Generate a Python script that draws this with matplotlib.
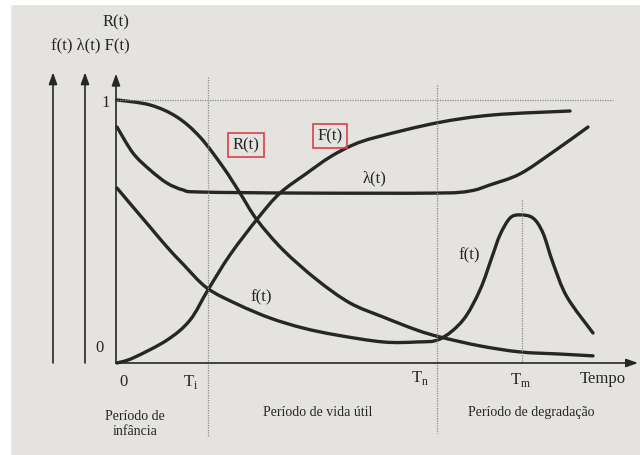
import matplotlib
matplotlib.use("Agg")
import matplotlib.pyplot as plt
from matplotlib.patches import Rectangle, PathPatch
from matplotlib.path import Path

plt.rcParams["font.family"] = ["Liberation Serif", "DejaVu Serif"]

# time marks on the horizontal axis
T_i, T_n, T_m = 0.91, 3.20, 4.05

# reliability R(t)
r_t = [0, 0.33, 0.60, 0.83, 1.06, 1.23, 1.40, 1.66, 2.00, 2.33, 2.66, 3.00, 3.23, 3.63, 4.03, 4.43, 4.76]
r_y = [1.0, 0.981, 0.935, 0.859, 0.745, 0.646, 0.544, 0.430, 0.316, 0.228, 0.175, 0.125, 0.099, 0.065, 0.042, 0.034, 0.027]

# cumulative failure F(t)
F_t = [0, 0.16, 0.50, 0.73, 0.91, 1.13, 1.41, 1.63, 1.90, 2.13, 2.36, 2.60, 3.20, 3.76, 4.53]
F_y = [0, 0.019, 0.087, 0.163, 0.278, 0.411, 0.551, 0.646, 0.722, 0.783, 0.829, 0.859, 0.913, 0.943, 0.958]

# failure rate lambda(t) (bathtub)
lam_t = [0, 0.16, 0.33, 0.50, 0.66, 0.83, 1.83, 3.20, 3.53, 3.73, 4.03, 4.36, 4.71]
lam_y = [0.897, 0.798, 0.734, 0.684, 0.658, 0.650, 0.646, 0.646, 0.654, 0.677, 0.719, 0.802, 0.897]

# failure density f(t)
f_t = [0, 0.16, 0.33, 0.50, 0.66, 0.90, 1.20, 1.53, 1.86, 2.20, 2.66, 3.00, 3.23, 3.46, 3.63,
       3.75, 3.83, 3.93, 4.03, 4.16, 4.26, 4.36, 4.50, 4.76]
f_y = [0.665, 0.593, 0.517, 0.441, 0.376, 0.285, 0.224, 0.171, 0.133, 0.106, 0.080, 0.080, 0.091,
       0.163, 0.278, 0.403, 0.487, 0.551, 0.563, 0.551, 0.494, 0.380, 0.251, 0.114]

periods = ["Período de\ninfância", "Período de vida útil", "Período de degradação"]

ink = "#262626"
page = "#e4e3df"


def smooth_path(xs, ys):
    # cubic bezier segments through every point (Catmull-Rom tangents)
    pts = list(zip(xs, ys))
    verts = [pts[0]]
    codes = [Path.MOVETO]
    n = len(pts)
    for i in range(n - 1):
        p0 = pts[i - 1] if i > 0 else pts[i]
        p1, p2 = pts[i], pts[i + 1]
        p3 = pts[i + 2] if i + 2 < n else pts[i + 1]
        c1 = (p1[0] + (p2[0] - p0[0]) / 6, p1[1] + (p2[1] - p0[1]) / 6)
        c2 = (p2[0] - (p3[0] - p1[0]) / 6, p2[1] - (p3[1] - p1[1]) / 6)
        verts += [c1, c2, p2]
        codes += [Path.CURVE4] * 3
    return Path(verts, codes)


fig = plt.figure(figsize=(6.4, 4.55), dpi=100, facecolor=page)
ax = fig.add_axes([0, 0, 1, 1])
ax.set_xlim(-1.17, 5.23)
ax.set_ylim(-0.3498, 1.380)
ax.axis("off")
ax.set_facecolor(page)

# white margin of the page photo
ax.add_patch(Rectangle((-1.17, -0.35), 0.10, 1.75, color="white", zorder=0))
ax.add_patch(Rectangle((-1.17, 1.365), 6.5, 0.02, color="white", zorder=0))

# reference lines
dot = dict(color="#8a8a8a", lw=0.9, ls=(0, (1, 1)))
ax.plot([0, 4.96], [1, 1], **dot)
ax.plot([T_i, T_i], [1.087, -0.281], **dot)
ax.plot([T_n, T_n], [1.057, -0.266], **dot)
ax.plot([T_m, T_m], [0.62, 0], **dot)

# axes with arrow heads
arrow = dict(arrowstyle="-|>,head_length=0.7,head_width=0.25", color=ink, lw=1.2,
             shrinkA=0, shrinkB=0)
ax.annotate("", xy=(-0.01, 1.10), xytext=(-0.01, 0), arrowprops=arrow)
ax.annotate("", xy=(-0.32, 1.105), xytext=(-0.32, 0), arrowprops=arrow)
ax.annotate("", xy=(-0.64, 1.105), xytext=(-0.64, 0), arrowprops=arrow)
ax.annotate("", xy=(5.21, 0), xytext=(-0.01, 0), arrowprops=arrow)

# curves
for xs, ys in [(r_t, r_y), (F_t, F_y), (lam_t, lam_y), (f_t, f_y)]:
    ax.add_patch(PathPatch(smooth_path(xs, ys), fc="none", ec=ink, lw=2.4,
                           capstyle="round", joinstyle="round"))

# axis titles
ax.text(-0.01, 1.293, "R(t)", ha="center", va="center", fontsize=12, color=ink)
ax.text(-0.27, 1.209, "f(t) λ(t) F(t)", ha="center", va="center", fontsize=12, color=ink)
ax.text(-0.11, 0.99, "1", ha="center", va="center", fontsize=12, color=ink)
ax.text(-0.17, 0.057, "0", ha="center", va="center", fontsize=12, color=ink)

# time labels
ax.text(0.07, -0.072, "0", ha="center", va="center", fontsize=12, color=ink)
ax.text(0.74, -0.072, "T$_\\mathregular{i}$", ha="center", va="center", fontsize=12, color=ink)
ax.text(3.03, -0.057, "T$_\\mathregular{n}$", ha="center", va="center", fontsize=12, color=ink)
ax.text(4.04, -0.065, "T$_\\mathregular{m}$", ha="center", va="center", fontsize=12, color=ink)
ax.text(4.86, -0.061, "Tempo", ha="center", va="center", fontsize=12, color=ink)

# period names
ax.text(0.18, -0.232, periods[0], ha="center", va="center", fontsize=10, color=ink,
        linespacing=1.15)
ax.text(2.01, -0.190, periods[1], ha="center", va="center", fontsize=10, color=ink)
ax.text(4.14, -0.190, periods[2], ha="center", va="center", fontsize=10, color=ink)

# curve labels
box = dict(boxstyle="square,pad=0.25", fc="none", ec="#d8404c", lw=1.2)
ax.text(1.29, 0.829, "R(t)", ha="center", va="center", fontsize=12, color=ink, bbox=box)
ax.text(2.13, 0.863, "F(t)", ha="center", va="center", fontsize=12, color=ink, bbox=box)
ax.text(2.58, 0.703, "λ(t)", ha="center", va="center", fontsize=12, color=ink)
ax.text(1.44, 0.251, "f(t)", ha="center", va="center", fontsize=12, color=ink)
ax.text(3.52, 0.410, "f(t)", ha="center", va="center", fontsize=12, color=ink)

fig.savefig("out.png", dpi=100, facecolor=page)
